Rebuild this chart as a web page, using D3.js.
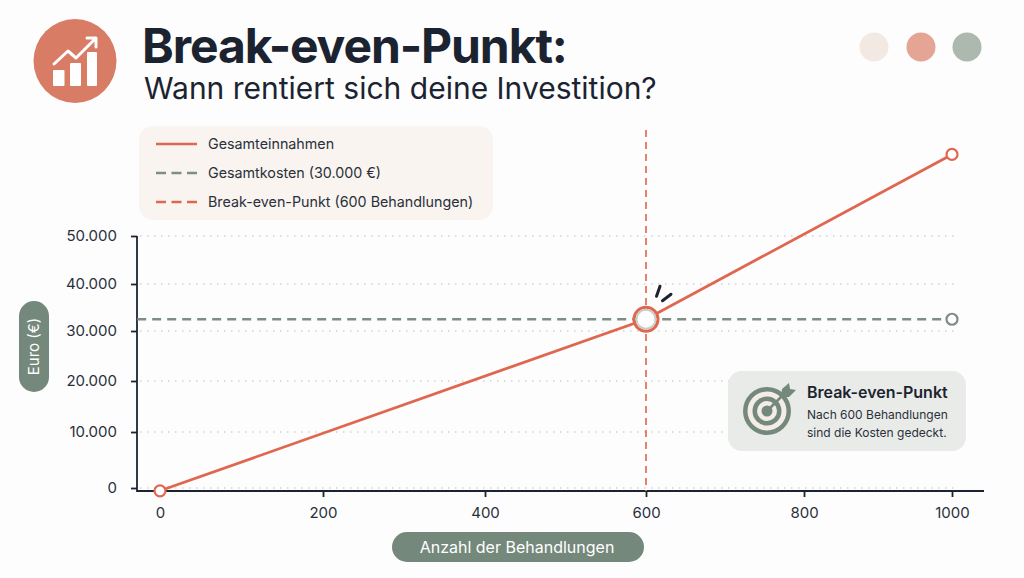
<!DOCTYPE html>
<html lang="de">
<head>
    <meta charset="UTF-8">
    <title>Break-even-Punkt</title>
    <script src="https://cdn.jsdelivr.net/npm/d3@7"></script>
    <style>
        html, body { margin: 0; padding: 0; background: #fdfdfd; }
        svg { display: block; font-family: Inter, "Noto Sans", sans-serif; }
    </style>
</head>
<body>
<svg width="1024" height="578" viewBox="0 0 1024 578"></svg>
<script>
    // values
    const xTicks = [0, 200, 400, 600, 800, 1000];
    const yTicks = [0, 10000, 20000, 30000, 40000, 50000];
    const revenueX = [0, 600, 1000];
    const revenueY = [-500, 32500, 67000];
    const costX = [-28, 1000];
    const costY = [32500, 32500];
    const breakEvenX = 600;
    const legendLabels = ["Gesamteinnahmen", "Gesamtkosten (30.000 €)", "Break-even-Punkt (600 Behandlungen)"];
    const dotColors = ["#f2e9e3", "#e5a595", "#adb8af"];

    const coral = "#e0674f";
    const sage = "#74887b";
    const ink = "#1c2330";

    const svg = d3.select("svg");
    const de = d3.formatLocale({decimal: ",", thousands: ".", grouping: [3], currency: ["", " €"]});

    // the picture's axes are not quite even, so the scales are piecewise
    const x = d3.scaleLinear().domain(xTicks).range([160, 323, 485, 646, 804, 952]);
    const y = d3.scaleLinear().domain(yTicks).range([488, 432, 381, 331, 284, 236]);
    const baseY = 491;
    const leftX = 137;

    // header
    const logo = svg.append("g");
    logo.append("ellipse").attr("cx", 75).attr("cy", 61).attr("rx", 41.5).attr("ry", 42).attr("fill", "#d97c66");
    [[53, 70, 11.5, 16], [70, 63, 11, 23], [87, 52, 10, 34]].forEach(b => {
        logo.append("rect").attr("x", b[0]).attr("y", b[1]).attr("width", b[2]).attr("height", b[3])
            .attr("rx", 1).attr("fill", "#fff");
    });
    logo.append("path").attr("d", "M54,64 L68,51 L76,58 L96,38 M87,38 L96,38 L96,47")
        .attr("fill", "none").attr("stroke", "#fff").attr("stroke-width", 3)
        .attr("stroke-linecap", "round").attr("stroke-linejoin", "round");

    svg.append("text").attr("x", 142).attr("y", 63).attr("font-size", 48).attr("font-weight", 700)
        .attr("letter-spacing", -1.1).attr("fill", ink).text("Break-even-Punkt:");
    svg.append("text").attr("x", 144).attr("y", 99).attr("font-size", 30).attr("fill", ink)
        .text("Wann rentiert sich deine Investition?");

    svg.selectAll(".dot").data(dotColors).join("circle").attr("class", "dot")
        .attr("cx", (d, i) => [874, 921, 967][i]).attr("cy", 47).attr("r", 14.5).attr("fill", d => d);

    // legend
    svg.append("rect").attr("x", 139).attr("y", 126).attr("width", 354).attr("height", 94)
        .attr("rx", 14).attr("fill", "#f9f4f0");
    const legendStyles = [[coral, null], ["#7f8e84", "10 5.5"], [coral, "10 5.5"]];
    const legend = svg.selectAll(".legend").data(legendLabels).join("g").attr("class", "legend")
        .attr("transform", (d, i) => `translate(0,${144 + i * 29})`);
    legend.append("line").attr("x1", 156).attr("x2", 197)
        .attr("stroke", (d, i) => legendStyles[i][0]).attr("stroke-width", 2.4)
        .attr("stroke-dasharray", (d, i) => legendStyles[i][1]);
    legend.append("text").attr("x", 208).attr("y", 5).attr("font-size", 14.3).attr("fill", "#2a303a").text(d => d);

    // grid
    svg.append("g").selectAll("line").data(yTicks).join("line")
        .attr("x1", leftX + 3).attr("x2", 958).attr("y1", d => y(d)).attr("y2", d => y(d))
        .attr("stroke", "#cfd3cf").attr("stroke-width", 1.3)
        .attr("stroke-dasharray", "1.5 5.5");

    // axes
    const yAxis = svg.append("g").attr("transform", `translate(${leftX},0)`)
        .call(d3.axisLeft(y).tickValues(yTicks).tickSize(6).tickPadding(14).tickFormat(de.format(",d")));
    const xAxis = svg.append("g").attr("transform", `translate(0,${baseY})`)
        .call(d3.axisBottom(x).tickValues(xTicks).tickSize(6).tickPadding(10).tickFormat(d3.format("d")));
    [yAxis, xAxis].forEach(a => {
        a.select(".domain").remove();
        a.selectAll("line").attr("stroke", ink).attr("stroke-width", 1.8);
        a.selectAll("text").attr("font-size", 15).attr("font-family", "Inter, sans-serif").attr("fill", "#2a303a");
    });
    svg.append("line").attr("x1", leftX).attr("x2", leftX).attr("y1", 236).attr("y2", baseY + 1)
        .attr("stroke", ink).attr("stroke-width", 1.8);
    svg.append("line").attr("x1", leftX).attr("x2", 984).attr("y1", baseY).attr("y2", baseY)
        .attr("stroke", ink).attr("stroke-width", 1.8);

    // axis titles
    svg.append("rect").attr("x", 19).attr("y", 301).attr("width", 30).attr("height", 91).attr("rx", 15).attr("fill", sage);
    svg.append("text").attr("transform", "translate(34,346.5) rotate(-90)").attr("text-anchor", "middle")
        .attr("dy", "0.35em").attr("font-size", 15).attr("fill", "#fff").text("Euro (€)");
    svg.append("rect").attr("x", 392).attr("y", 532).attr("width", 252).attr("height", 30).attr("rx", 15).attr("fill", sage);
    svg.append("text").attr("x", 517).attr("y", 547).attr("text-anchor", "middle")
        .attr("dy", "0.35em").attr("font-size", 16).attr("fill", "#fff").text("Anzahl der Behandlungen");

    // series
    const line = d3.line().x(d => x(d[0])).y(d => y(d[1]));
    svg.append("path").attr("d", line(d3.zip(costX, costY)))
        .attr("fill", "none").attr("stroke", "#7f8e84").attr("stroke-width", 2.4).attr("stroke-dasharray", "9 6");
    svg.append("line").attr("x1", x(breakEvenX)).attr("x2", x(breakEvenX)).attr("y1", 130).attr("y2", baseY)
        .attr("stroke", "#e5735c").attr("stroke-width", 1.8).attr("stroke-dasharray", "7 5");
    svg.append("path").attr("d", line(d3.zip(revenueX, revenueY)))
        .attr("fill", "none").attr("stroke", coral).attr("stroke-width", 2.8);

    // end points
    svg.append("circle").attr("cx", x(0)).attr("cy", y(revenueY[0])).attr("r", 5.5)
        .attr("fill", "#fff").attr("stroke", coral).attr("stroke-width", 2.2);
    svg.append("circle").attr("cx", x(1000)).attr("cy", y(revenueY[2])).attr("r", 5.5)
        .attr("fill", "#fff").attr("stroke", coral).attr("stroke-width", 2.2);
    svg.append("circle").attr("cx", x(1000)).attr("cy", y(costY[1])).attr("r", 5.5)
        .attr("fill", "#fff").attr("stroke", "#7f8e84").attr("stroke-width", 2.2);

    // break-even marker
    const bx = x(breakEvenX), by = y(costY[0]);
    svg.append("circle").attr("cx", bx).attr("cy", by).attr("r", 12).attr("fill", "#fff")
        .attr("stroke", coral).attr("stroke-width", 3);
    svg.append("circle").attr("cx", bx).attr("cy", by).attr("r", 9.5).attr("fill", "#fff")
        .attr("stroke", "#c9cdc8").attr("stroke-width", 2);
    svg.append("path").attr("d", `M${bx + 14},${by - 33} L${bx + 10.5},${by - 23} M${bx + 25},${by - 25} L${bx + 16.5},${by - 18.5}`)
        .attr("stroke", ink).attr("stroke-width", 3).attr("stroke-linecap", "round");

    // callout
    svg.append("rect").attr("x", 728).attr("y", 371).attr("width", 238).attr("height", 80).attr("rx", 14).attr("fill", "#e9ebe8");
    const target = svg.append("g").attr("transform", "translate(767,411)");
    [[24, sage], [19.5, "#f3ede6"], [14.5, sage], [10, "#f3ede6"], [5.5, sage]].forEach(r => {
        target.append("circle").attr("r", r[0]).attr("fill", r[1]);
    });
    target.append("line").attr("x1", 0).attr("y1", 0).attr("x2", 17).attr("y2", -17)
        .attr("stroke", sage).attr("stroke-width", 2.6);
    target.append("path").attr("d", "M14,-14 L15,-22 L22,-28 L23,-22 L29,-21 L22,-14 Z").attr("fill", sage);

    svg.append("text").attr("x", 807).attr("y", 398).attr("font-size", 16).attr("font-weight", 600)
        .attr("fill", ink).text("Break-even-Punkt");
    svg.append("text").attr("x", 807).attr("y", 419).attr("font-size", 12).attr("fill", "#2a303a").text("Nach 600 Behandlungen");
    svg.append("text").attr("x", 807).attr("y", 437).attr("font-size", 12).attr("fill", "#2a303a").text("sind die Kosten gedeckt.");
</script>
</body>
</html>
